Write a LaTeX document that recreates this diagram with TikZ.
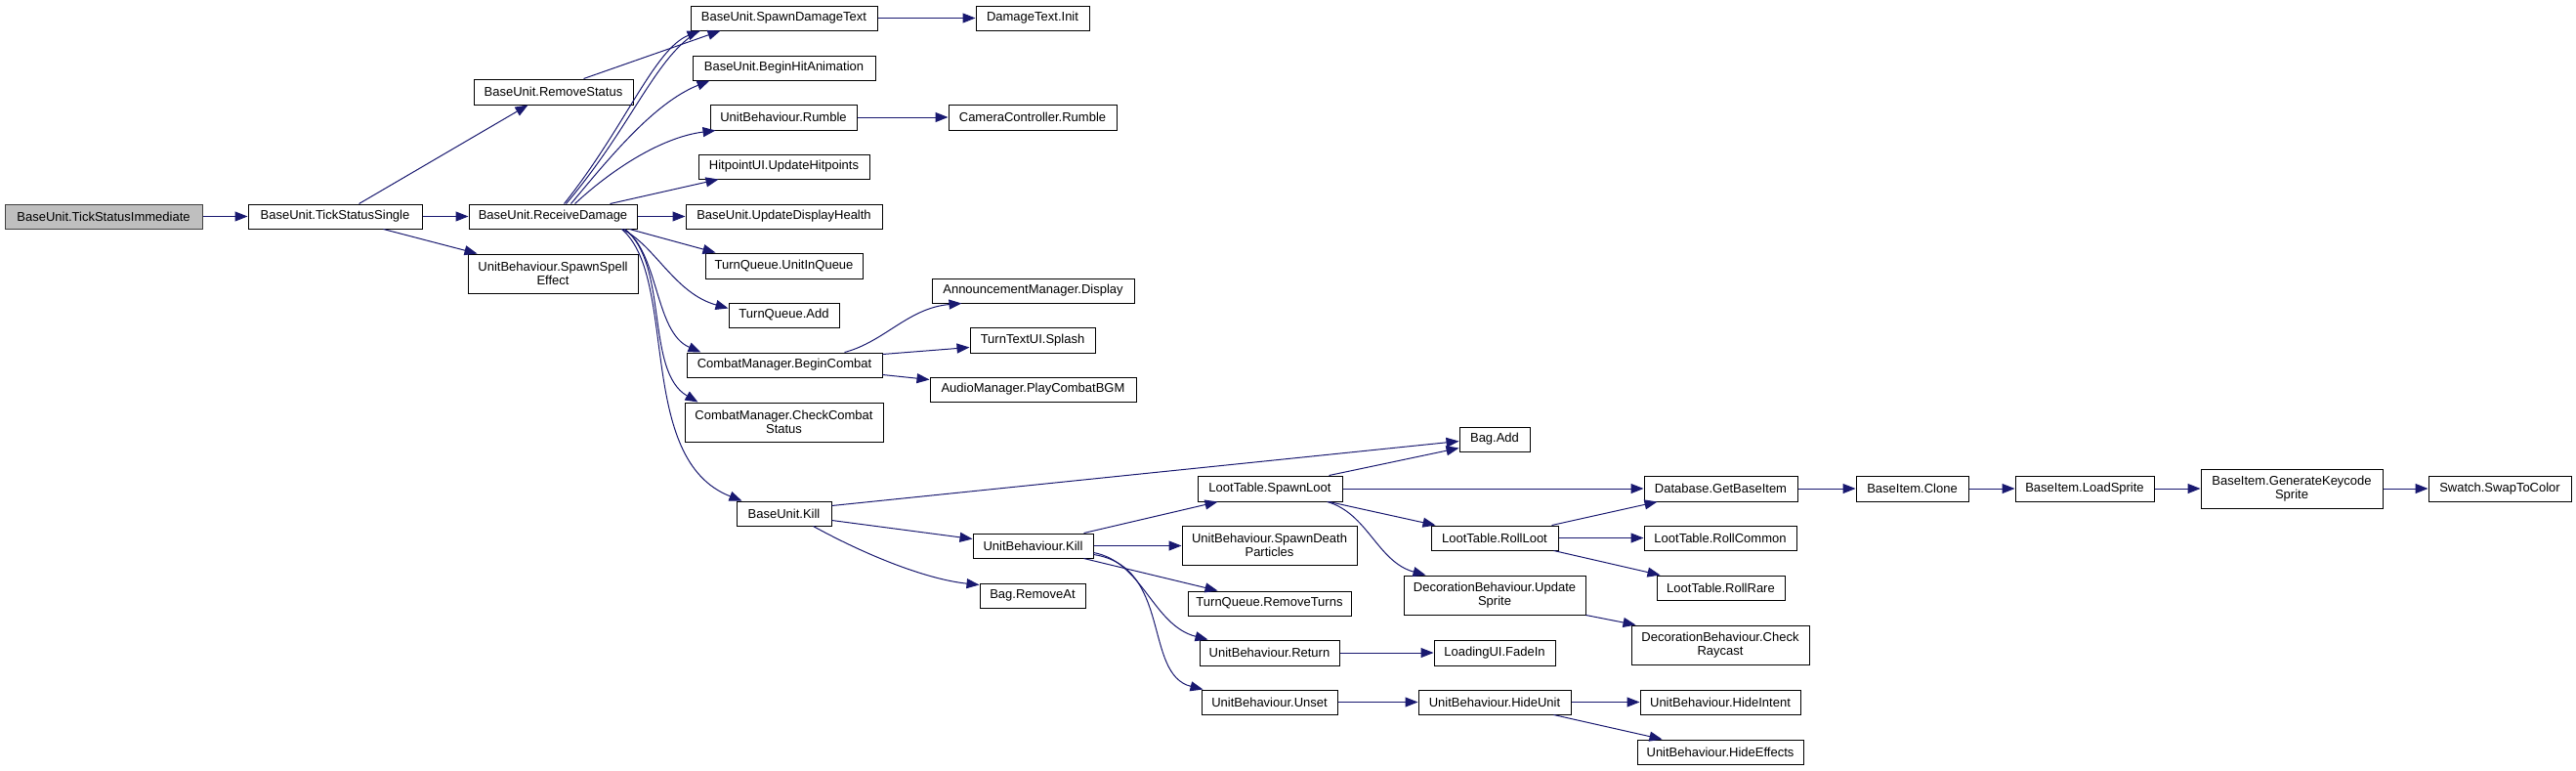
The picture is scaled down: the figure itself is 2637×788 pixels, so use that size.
\documentclass[tikz,border=0pt]{standalone}
\usepackage{fontspec}
\setmainfont{Liberation Sans}
\usetikzlibrary{arrows.meta}
\definecolor{edgeblue}{HTML}{191970}
\definecolor{nodegray}{HTML}{BFBFBF}
\newcommand\dxnode[7][]{\node[box,#1,minimum width={(#5-#3)*1pt},minimum height={(#6-#4)*1pt}] (#2) at ({(#3+#5)/2},{(#4+#6)/2}) {#7};}
\tikzset{
  box/.style={draw=black, line width=1pt, fill=white, inner sep=0pt, align=center,
    font=\fontsize{13}{14}\selectfont},
  link/.style={draw=edgeblue, line width=1pt, -{Triangle[length=13pt,width=10pt]}, edgeblue},
  strand/.style={draw=edgeblue, line width=1pt}
}
\begin{document}
\begin{tikzpicture}[x=1pt,y=-1pt]
\fill[white] (0,0) rectangle (2637,788);
\useasboundingbox (0,0) rectangle (2637,788);
% nodes
\dxnode[fill=nodegray,draw={rgb,255:red,64;green,64;blue,64}]{tsi}{5}{209}{207}{234}{BaseUnit.TickStatusImmediate}
\dxnode{tss}{254}{209}{432}{234}{BaseUnit.TickStatusSingle}
\dxnode{rd}{480}{209}{652}{234}{BaseUnit.ReceiveDamage}
\dxnode{rs}{485}{81}{648}{107}{BaseUnit.RemoveStatus}
\dxnode{sse}{479}{260}{653}{300}{UnitBehaviour.SpawnSpell\\Effect}
\dxnode{sdt}{707}{6}{898}{31}{BaseUnit.SpawnDamageText}
\dxnode{dti}{999}{6}{1115}{31}{DamageText.Init}
\dxnode{bha}{709}{57}{896}{82}{BaseUnit.BeginHitAnimation}
\dxnode{ubr}{727}{107}{877}{133}{UnitBehaviour.Rumble}
\dxnode{ccr}{971}{107}{1143}{133}{CameraController.Rumble}
\dxnode{hui}{715}{158}{890}{183}{HitpointUI.UpdateHitpoints}
\dxnode{udh}{702}{209}{903}{234}{BaseUnit.UpdateDisplayHealth}
\dxnode{uiq}{722}{259}{883}{285}{TurnQueue.UnitInQueue}
\dxnode{tqa}{746}{310}{859}{335}{TurnQueue.Add}
\dxnode{bc}{703}{361}{903}{386}{CombatManager.BeginCombat}
\dxnode{amd}{954}{285}{1161}{310}{AnnouncementManager.Display}
\dxnode{tts}{993}{335}{1121}{361}{TurnTextUI.Splash}
\dxnode{amp}{952}{386}{1163}{411}{AudioManager.PlayCombatBGM}
\dxnode{ccs}{701}{412}{904}{452}{CombatManager.CheckCombat\\Status}
\dxnode{buk}{754}{513}{851}{538}{BaseUnit.Kill}
\dxnode{ubk}{996}{546}{1119}{571}{UnitBehaviour.Kill}
\dxnode{bra}{1003}{597}{1111}{622}{Bag.RemoveAt}
\dxnode{bag}{1494}{437}{1566}{462}{Bag.Add}
\dxnode{lsl}{1226}{487}{1374}{513}{LootTable.SpawnLoot}
\dxnode{sdp}{1210}{538}{1389}{578}{UnitBehaviour.SpawnDeath\\Particles}
\dxnode{rmt}{1216}{605}{1383}{630}{TurnQueue.RemoveTurns}
\dxnode{ret}{1228}{655}{1371}{681}{UnitBehaviour.Return}
\dxnode{uns}{1230}{706}{1369}{731}{UnitBehaviour.Unset}
\dxnode{gbi}{1683}{487}{1840}{513}{Database.GetBaseItem}
\dxnode{rll}{1465}{538}{1595}{563}{LootTable.RollLoot}
\dxnode{rlc}{1683}{538}{1839}{563}{LootTable.RollCommon}
\dxnode{rlr}{1696}{589}{1827}{614}{LootTable.RollRare}
\dxnode{dus}{1437}{589}{1623}{629}{DecorationBehaviour.Update\\Sprite}
\dxnode{dcr}{1670}{640}{1852}{680}{DecorationBehaviour.Check\\Raycast}
\dxnode{fdi}{1468}{655}{1592}{681}{LoadingUI.FadeIn}
\dxnode{hu}{1452}{706}{1608}{731}{UnitBehaviour.HideUnit}
\dxnode{hi}{1679}{706}{1843}{731}{UnitBehaviour.HideIntent}
\dxnode{he}{1676}{757}{1846}{782}{UnitBehaviour.HideEffects}
\dxnode{cln}{1900}{487}{2015}{513}{BaseItem.Clone}
\dxnode{lsp}{2063}{487}{2205}{513}{BaseItem.LoadSprite}
\dxnode{gks}{2253}{480}{2439}{520}{BaseItem.GenerateKeycode\\Sprite}
\dxnode{sw}{2486}{487}{2632}{513}{Swatch.SwapToColor}
% edges
\draw[link] (tsi) -- (tss);
\draw[link] ([xshift=114pt]tss.north west) -- ([xshift=56pt]rs.south west);
\draw[link] (tss) -- (rd);
\draw[link] ([xshift=139pt]tss.south west) -- ([xshift=10pt]sse.north west);
\draw[link] ([xshift=113pt]rs.north west) -- ([xshift=31pt]sdt.south west);
\draw[strand] ([xshift=100pt]rd.north west) .. controls (648,128) and (672,55) .. ([xshift=10pt]sdt.south west);
\draw[link] ([xshift=98pt]rd.north west) .. controls (640,130) and (670,50) .. ([xshift=10pt]sdt.south west);
\draw[link] ([xshift=105pt]rd.north west) .. controls (625,160) and (670,105) .. ([xshift=18pt]bha.south west);
\draw[link] ([xshift=109pt]rd.north west) .. controls (630,170) and (680,140) .. ([xshift=6pt]ubr.south west);
\draw[link] ([xshift=145pt]rd.north west) -- ([xshift=21pt]hui.south west);
\draw[link] (rd) -- (udh);
\draw[link] ([xshift=165pt]rd.south west) -- ([xshift=11pt]uiq.north west);
\draw[link] ([xshift=157pt]rd.south west) .. controls (670,250) and (690,300) .. ([yshift=-6pt]tqa.north west);
\draw[link] ([xshift=160pt]rd.south west) .. controls (675,260) and (670,340) .. ([xshift=15pt]bc.north west);
\draw[link] ([xshift=160pt]rd.south west) .. controls (685,270) and (660,380) .. ([xshift=14pt]ccs.north west);
\draw[link] ([xshift=157pt]rd.south west) .. controls (695,285) and (650,470) .. ([xshift=6pt]buk.north west);
\draw[link] (sdt) -- (dti);
\draw[link] (ubr) -- (ccr);
\draw[link] ([xshift=162pt]bc.north west) .. controls (905,350) and (930,315) .. ([xshift=31pt]amd.south west);
\draw[link] ([yshift=-2pt]bc.north east) -- ([yshift=-21pt]tts.north west);
\draw[link] ([yshift=3pt]bc.south east) -- ([yshift=-3pt]amp.north west);
\draw[link] ([yshift=-5pt]buk.north east) -- ([yshift=-15pt]bag.north west);
\draw[link] ([yshift=6pt]buk.south east) -- ([yshift=-6pt]ubk.north west);
\draw[link] ([xshift=79pt]buk.south west) .. controls (890,570) and (950,593) .. ([yshift=-2pt]bra.north west);
\draw[link] ([xshift=114pt]ubk.north west) -- ([xshift=21pt]lsl.south west);
\draw[link] (ubk.east) -- (ubk.east -| sdp.west);
\draw[link] ([xshift=114pt]ubk.south west) -- ([xshift=31pt]rmt.north west);
\draw[link] ([yshift=6pt]ubk.south east) .. controls (1170,575) and (1180,640) .. ([xshift=9pt]ret.north west);
\draw[link] ([yshift=4pt]ubk.south east) .. controls (1200,580) and (1170,690) .. ([xshift=2pt]uns.north west);
\draw[link] ([xshift=-14pt]lsl.north east) -- ([yshift=4pt]bag.south west);
\draw[link] (lsl) -- (gbi);
\draw[link] ([xshift=-14pt]lsl.south east) -- ([xshift=5pt]rll.north west);
\draw[link] ([xshift=-16pt]lsl.south east) .. controls (1400,525) and (1410,575) .. ([xshift=23pt]dus.north west);
\draw[link] ([xshift=-7pt]rll.north east) -- ([xshift=14pt]gbi.south west);
\draw[link] (rll) -- (rlc);
\draw[link] ([xshift=-5pt]rll.south east) -- ([xshift=4pt]rlr.north west);
\draw[link] (dus.south east) -- ([xshift=5pt]dcr.north west);
\draw[link] (ret) -- (fdi);
\draw[link] (uns) -- (hu);
\draw[link] (hu) -- (hi);
\draw[link] ([xshift=-18pt]hu.south east) -- ([xshift=26pt]he.north west);
\draw[link] (gbi) -- (cln);
\draw[link] (cln) -- (lsp);
\draw[link] (lsp) -- (gks);
\draw[link] (gks) -- (sw);
\end{tikzpicture}
\end{document}
